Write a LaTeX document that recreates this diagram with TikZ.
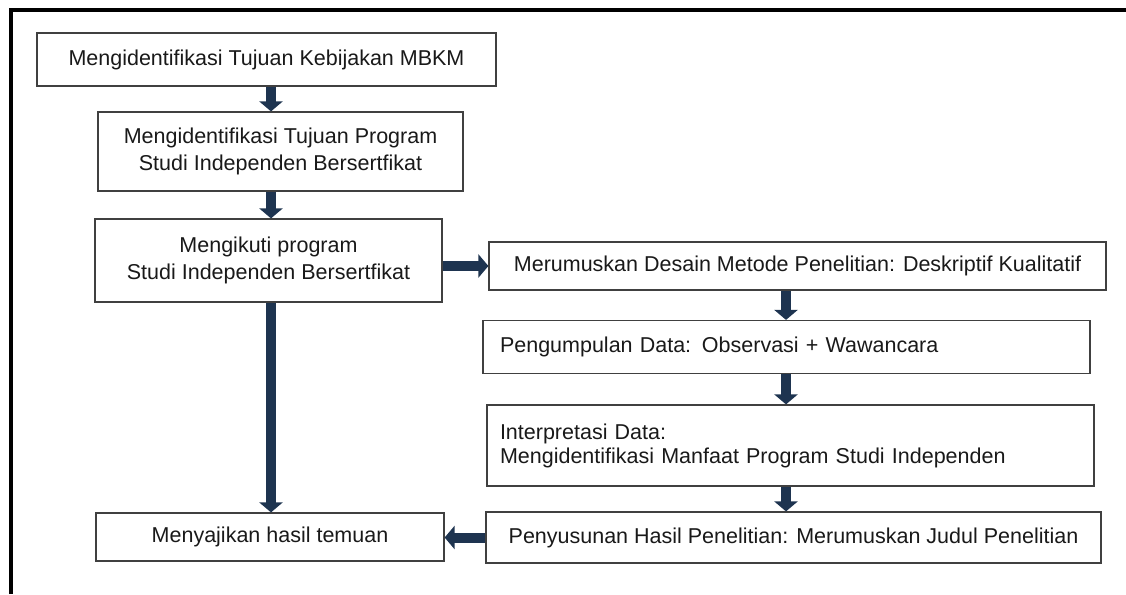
\documentclass[tikz,border=0pt]{standalone}
\usepackage{fontspec}
\setmainfont{Liberation Sans}
\usetikzlibrary{arrows.meta}
\definecolor{navy}{RGB}{30,52,80}

\begin{document}
\begin{tikzpicture}[x=1pt,y=-1pt]
\useasboundingbox (0,0) rectangle (1126,594);
% frame
\draw[line width=4pt] (10.5,594) -- (10.5,10) -- (1126,10);

\coordinate (kiri) at (271,0);
\coordinate (kanan) at (786,0);

\begin{scope}[every node/.style={draw=black!75,line width=1.2pt,inner sep=0pt,align=center,text=black!90,font=\fontsize{21.5}{24}\selectfont}]
	\node[minimum width=459pt,minimum height=53pt] (mbkm) at (266.5,59.5) {Mengidentifikasi Tujuan Kebijakan MBKM};
	\node[minimum width=365pt,minimum height=79pt] (tujuan) at (280.5,151.5) {Mengidentifikasi Tujuan Program\\[3pt] Studi Independen Bersertfikat};
	\node[minimum width=347pt,minimum height=83pt] (ikut) at (268.5,260.5) {Mengikuti program\\[3pt] Studi Independen Bersertfikat};
	\node[minimum width=348pt,minimum height=48pt] (sajikan) at (270,537) {Menyajikan hasil temuan};
	\node[minimum width=617pt,minimum height=48pt] (desain) at (797.5,266) {Merumuskan Desain Metode Penelitian: Deskriptif Kualitatif};
	\node[text width=573pt,inner xsep=17pt,minimum height=53pt,align=left] (kumpul) at (786.5,347) {Pengumpulan Data: Observasi + Wawancara};
	\node[text width=581pt,inner xsep=13pt,minimum height=81pt,align=left] (interpretasi) at (790.5,445.5) {Interpretasi Data:\\ Mengidentifikasi Manfaat Program Studi Independen};
	\node[minimum width=615pt,minimum height=51pt] (susun) at (793.5,537.5) {Penyusunan Hasil Penelitian: Merumuskan Judul Penelitian};
\end{scope}

\begin{scope}[every edge/.style={draw=navy,line width=10pt,-{Triangle[width=23pt,length=10pt]}}]
	\path (mbkm.south -| kiri) edge (tujuan.north -| kiri);
	\path (tujuan.south -| kiri) edge (ikut.north -| kiri);
	\path (ikut.south -| kiri) edge (sajikan.north -| kiri);
	\path (ikut.east |- desain.west) edge (desain.west);
	\path (desain.south -| kanan) edge (kumpul.north -| kanan);
	\path (kumpul.south -| kanan) edge (interpretasi.north -| kanan);
	\path (interpretasi.south -| kanan) edge (susun.north -| kanan);
	\path (susun.west) edge (sajikan.east |- susun.west);
\end{scope}
\end{tikzpicture}
\end{document}
